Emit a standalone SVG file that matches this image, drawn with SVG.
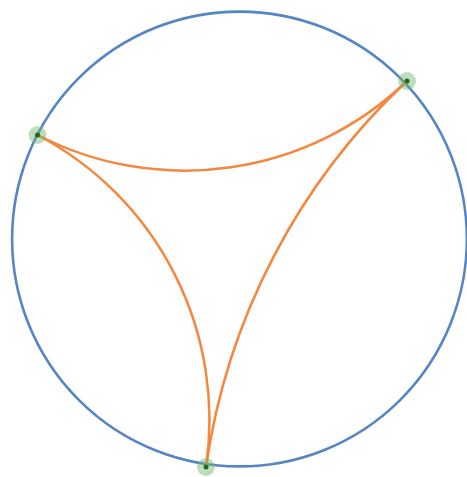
<svg xmlns="http://www.w3.org/2000/svg" width="467" height="477" viewBox="0 0 467 477">
<style>
.disk{fill:none;stroke:#5585c4;stroke-width:2.6}
.geo{fill:none;stroke:#f5863c;stroke-width:2.5}
.halo{fill:#6cb46c;fill-opacity:0.45}
.core{fill:#1b6a20}
</style>
<rect width="467" height="477" fill="#ffffff"/>
<g id="boundary">
<circle class="disk" cx="239.5" cy="239" r="227.4"/>
</g>
<g id="connectors">
<path class="geo" d="M37.5,135 A321,321 0 0 0 407,81"/>
<path class="geo" d="M37.5,135 A322,322 0 0 1 206,467"/>
<path class="geo" d="M407,81 A655,655 0 0 0 206,467"/>
</g>
<g id="node-top-right">
<circle class="halo" cx="407" cy="81" r="9"/>
<circle class="core" cx="407" cy="81" r="2.5"/>
</g>
<g id="node-left">
<circle class="halo" cx="37.5" cy="135" r="9"/>
<circle class="core" cx="37.5" cy="135" r="2.5"/>
</g>
<g id="node-bottom">
<circle class="halo" cx="206" cy="467" r="9"/>
<circle class="core" cx="206" cy="467" r="2.5"/>
</g>
</svg>
